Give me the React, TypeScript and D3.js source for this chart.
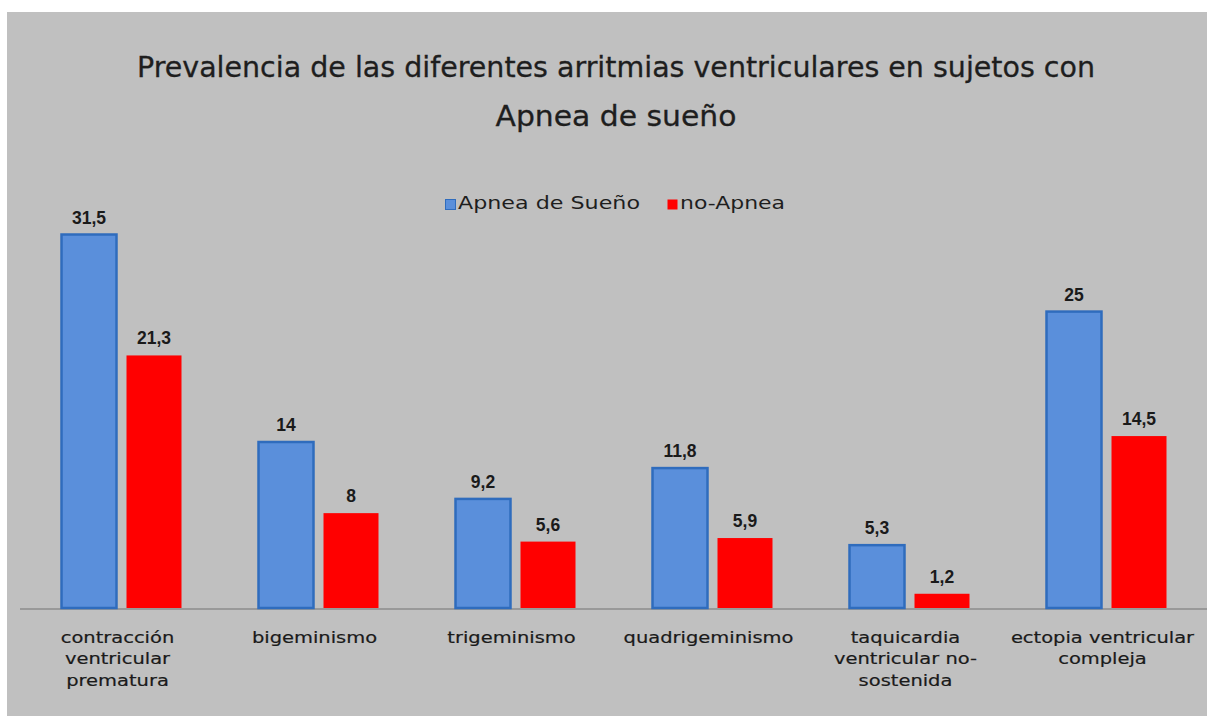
import React from "react";
import * as d3 from "d3";

const categories = [
  ["contracción", "ventricular", "prematura"],
  ["bigeminismo"],
  ["trigeminismo"],
  ["quadrigeminismo"],
  ["taquicardia", "ventricular no-", "sostenida"],
  ["ectopia ventricular", "compleja"]
];
const apnea = [31.5, 14, 9.2, 11.8, 5.3, 25];
const noApnea = [21.3, 8, 5.6, 5.9, 1.2, 14.5];
const seriesNames = ["Apnea de Sueño", "no-Apnea"];
const titleLines = [
  "Prevalencia de las diferentes arritmias ventriculares en sujetos con",
  "Apnea de sueño"
];

const width = 1207;
const height = 716;
const margin = { top: 193, right: 2, bottom: 108, left: 23 };
const blue = "#5a8fdb";
const blueEdge = "#2f6cbd";
const red = "#ff0000";
const font = "'Liberation Sans', Arial, sans-serif";
const wideFont = "'DejaVu Sans', Verdana, sans-serif";

const fmt = (v: number) => String(v).replace(".", ",");

export default function App() {
  const plotWidth = width - margin.left - margin.right;
  const baseY = height - margin.bottom;
  const idx = categories.map((c, i) => String(i));

  const xScale = d3
    .scaleBand()
    .domain(idx)
    .range([margin.left, margin.left + plotWidth]);
  const bw = xScale.bandwidth();
  // two bars of ~55px with a 10px gap, centred in each band
  const inner = d3
    .scaleBand()
    .domain(["0", "1"])
    .range([(bw - 120) / 2, (bw + 120) / 2])
    .paddingInner(10 / 65);
  const yScale = d3.scaleLinear().domain([0, 35]).range([baseY, margin.top]);

  const series = [apnea, noApnea];
  const titleWidths = [958, 241];
  const legendX = [445, 667];
  const legendWidths = [182, 105];

  return (
    <svg
      width={width}
      height={height}
      style={{ position: "absolute", left: 0, top: 0, display: "block" }}
    >
      <rect width={width} height={height} fill="#ffffff" />
      <rect x={7} y={12} width={width - 7} height={height - 12} fill="#c0c0c0" />

      {titleLines.map((t, i) => (
        <text
          key={t}
          x={616}
          y={77 + i * 49}
          textAnchor="middle"
          fontFamily={wideFont}
          fontSize={29}
          textLength={titleWidths[i]}
          lengthAdjust="spacingAndGlyphs"
          fill="#1e1e1e"
          stroke="#1e1e1e"
          strokeWidth={0.3}
        >
          {t}
        </text>
      ))}

      {/* legend */}
      {seriesNames.map((name, i) => (
        <g key={name} transform={`translate(${legendX[i]},198)`}>
          <rect
            x={0.5}
            y={1.5}
            width={10}
            height={10}
            fill={i === 0 ? blue : red}
            stroke={i === 0 ? blueEdge : "none"}
          />
          <text
            x={13}
            y={11}
            fontFamily={wideFont}
            fontSize={18}
            textLength={legendWidths[i]}
            lengthAdjust="spacingAndGlyphs"
            fill="#1e1e1e"
          >
            {name}
          </text>
        </g>
      ))}

      <line x1={20} x2={width} y1={baseY + 1} y2={baseY + 1} stroke="#8c8c8c" strokeWidth={1.5} />

      {idx.map((k, i) => (
        <g key={k} transform={`translate(${xScale(k)},0)`}>
          {series.map((s, j) => {
            const x = inner(String(j)) as number;
            const w = inner.bandwidth();
            const y = yScale(s[i]);
            return (
              <g key={j}>
                <rect
                  x={x}
                  y={y}
                  width={w}
                  height={baseY - y}
                  fill={j === 0 ? blue : red}
                  stroke={j === 0 ? blueEdge : "none"}
                  strokeWidth={2.5}
                />
                <text
                  x={x + w / 2}
                  y={y - 11}
                  textAnchor="middle"
                  fontFamily={font}
                  fontWeight="bold"
                  fontSize={17.5}
                  fill="#1a1a1a"
                >
                  {fmt(s[i])}
                </text>
              </g>
            );
          })}
          <g transform={`translate(${bw / 2 - 4},0) scale(1.18,1)`}>
            {categories[i].map((line, li) => (
              <text
                key={li}
                x={0}
                y={643 + li * 21.5}
                textAnchor="middle"
                fontFamily={wideFont}
                fontSize={16.5}
                fill="#1a1a1a"
                stroke="#1a1a1a"
                strokeWidth={0.2}
              >
                {line}
              </text>
            ))}
          </g>
        </g>
      ))}
    </svg>
  );
}
